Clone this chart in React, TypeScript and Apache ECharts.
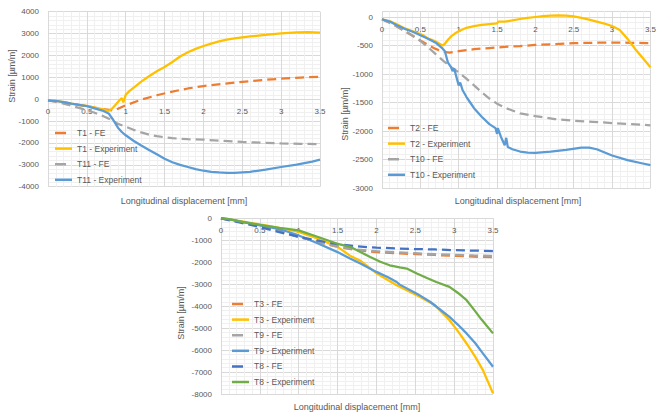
import React, { useEffect, useRef } from "react";
import * as echarts from "echarts";

// ---------- Chart 1 (T1 / T11) ----------
const t1FeX = [0, 0.25, 0.5, 0.7, 0.85, 1.0, 1.2, 1.4, 1.6, 1.8, 2.0, 2.25, 2.5, 2.75, 3.0, 3.25, 3.5];
const t1FeY = [-50, -170, -320, -450, -520, -280, -20, 180, 350, 490, 600, 700, 790, 870, 940, 990, 1030];
const t1ExpX = [0, 0.1, 0.2, 0.3, 0.4, 0.5, 0.6, 0.7, 0.78, 0.82, 0.87, 0.92, 0.95, 0.97, 1.0, 1.05, 1.1, 1.2, 1.3, 1.4, 1.5, 1.6, 1.7, 1.8, 1.9, 2.0, 2.1, 2.2, 2.3, 2.4, 2.5, 2.6, 2.8, 3.0, 3.2, 3.35, 3.5];
const t1ExpY = [-60, -80, -130, -200, -260, -300, -380, -450, -530, -450, -250, -50, 50, -150, 200, 380, 520, 800, 1050, 1280, 1470, 1700, 1950, 2150, 2300, 2430, 2540, 2640, 2720, 2780, 2830, 2870, 2940, 3010, 3060, 3070, 3040];
const t11FeX = [0, 0.2, 0.4, 0.5, 0.6, 0.7, 0.8, 0.9, 1.0, 1.1, 1.2, 1.3, 1.4, 1.5, 1.6, 1.7, 1.8, 2.0, 2.25, 2.5, 2.75, 3.0, 3.25, 3.5];
const t11FeY = [-50, -200, -400, -500, -620, -760, -920, -1130, -1260, -1400, -1520, -1620, -1690, -1740, -1780, -1810, -1830, -1850, -1900, -1950, -1990, -2020, -2040, -2060];
const t11ExpX = [0, 0.1, 0.2, 0.3, 0.4, 0.5, 0.6, 0.7, 0.78, 0.84, 0.9, 0.95, 1.0, 1.1, 1.2, 1.3, 1.4, 1.5, 1.6, 1.7, 1.8, 1.9, 2.0, 2.1, 2.2, 2.3, 2.4, 2.6, 2.8, 3.0, 3.2, 3.4, 3.5];
const t11ExpY = [-60, -80, -130, -200, -260, -320, -420, -520, -650, -950, -1300, -1500, -1650, -1900, -2120, -2320, -2520, -2720, -2880, -3000, -3100, -3200, -3270, -3320, -3350, -3370, -3370, -3320, -3220, -3100, -2990, -2850, -2760];

// ---------- Chart 2 (T2 / T10) ----------
const t2FeX = [0, 0.1, 0.2, 0.3, 0.4, 0.5, 0.6, 0.7, 0.8, 0.88, 1.0, 1.2, 1.4, 1.6, 1.8, 2.0, 2.25, 2.5, 2.75, 3.0, 3.25, 3.5];
const t2FeY = [-40, -100, -170, -250, -330, -410, -490, -560, -610, -625, -600, -565, -545, -525, -510, -490, -475, -460, -452, -450, -452, -460];
const t2ExpX = [0, 0.1, 0.2, 0.3, 0.4, 0.5, 0.55, 0.6, 0.65, 0.7, 0.75, 0.79, 0.82, 0.86, 0.9, 0.95, 1.0, 1.05, 1.1, 1.2, 1.3, 1.4, 1.5, 1.52, 1.6, 1.7, 1.8, 1.9, 2.0, 2.1, 2.2, 2.3, 2.4, 2.5, 2.6, 2.7, 2.8, 2.9, 3.0, 3.1, 3.2, 3.3, 3.4, 3.5];
const t2ExpY = [-40, -70, -130, -200, -250, -300, -330, -380, -400, -430, -470, -500, -470, -400, -340, -290, -250, -220, -190, -160, -140, -125, -110, -80, -80, -60, -35, -15, 0, 15, 25, 30, 25, 10, -15, -45, -80, -115, -160, -230, -380, -560, -720, -880];
const t10FeX = [0, 0.1, 0.2, 0.3, 0.4, 0.5, 0.6, 0.7, 0.8, 0.9, 1.0, 1.1, 1.2, 1.3, 1.4, 1.5, 1.6, 1.7, 1.8, 2.0, 2.25, 2.5, 2.75, 3.0, 3.25, 3.5];
const t10FeY = [-40, -100, -170, -250, -330, -420, -530, -650, -770, -880, -970, -1080, -1200, -1320, -1430, -1520, -1590, -1640, -1690, -1740, -1790, -1820, -1840, -1860, -1880, -1900];
const t10ExpX = [0, 0.1, 0.2, 0.3, 0.4, 0.5, 0.6, 0.7, 0.78, 0.82, 0.86, 0.9, 0.92, 0.94, 0.97, 1.0, 1.02, 1.05, 1.1, 1.15, 1.2, 1.3, 1.4, 1.48, 1.5, 1.51, 1.55, 1.6, 1.62, 1.64, 1.7, 1.8, 1.9, 2.0, 2.2, 2.4, 2.6, 2.7, 2.8, 3.0, 3.2, 3.4, 3.5];
const t10ExpY = [-40, -80, -150, -210, -260, -320, -380, -450, -540, -600, -800, -880, -950, -900, -1050, -1200, -1150, -1280, -1400, -1500, -1600, -1750, -1880, -1950, -2050, -1950, -2100, -2250, -2120, -2280, -2320, -2360, -2380, -2385, -2360, -2330, -2290, -2290, -2320, -2430, -2510, -2570, -2600];

// ---------- Chart 3 (T3 / T9 / T8) ----------
const feX = [0, 0.25, 0.5, 0.75, 1.0, 1.25, 1.5, 1.75, 2.0, 2.25, 2.5, 2.75, 3.0, 3.25, 3.5];
const t3FeY = [0, -150, -330, -580, -850, -1080, -1300, -1450, -1540, -1590, -1630, -1670, -1710, -1745, -1775];
const t9FeY = [0, -150, -330, -580, -850, -1070, -1280, -1420, -1500, -1550, -1590, -1630, -1660, -1690, -1715];
const t8FeY = [0, -200, -400, -630, -840, -1020, -1180, -1280, -1335, -1370, -1400, -1420, -1450, -1470, -1490];
const t3ExpX = [0, 0.1, 0.25, 0.5, 0.75, 1.0, 1.25, 1.5, 1.66, 1.8, 2.0, 2.26, 2.52, 2.75, 2.94, 3.05, 3.16, 3.27, 3.37, 3.5];
const t3ExpY = [0, -40, -130, -280, -430, -620, -930, -1300, -1700, -1950, -2500, -3050, -3500, -3950, -4640, -5150, -5700, -6300, -6910, -7970];
const t9ExpX = [0, 0.1, 0.25, 0.5, 0.72, 0.85, 1.0, 1.25, 1.5, 1.66, 1.8, 2.0, 2.15, 2.26, 2.3, 2.52, 2.69, 2.81, 2.94, 3.05, 3.16, 3.27, 3.37, 3.5];
const t9ExpY = [0, -40, -150, -320, -470, -600, -780, -1150, -1540, -1830, -2070, -2440, -2680, -2900, -3020, -3430, -3800, -4130, -4490, -4850, -5240, -5680, -6150, -6760];
const t8ExpX = [0, 0.1, 0.25, 0.5, 0.75, 1.0, 1.25, 1.49, 1.66, 1.8, 1.92, 2.05, 2.17, 2.3, 2.39, 2.52, 2.65, 2.77, 2.94, 3.05, 3.16, 3.26, 3.35, 3.5];
const t8ExpY = [0, -40, -150, -300, -430, -550, -850, -1150, -1300, -1550, -1760, -1980, -2140, -2230, -2290, -2510, -2720, -2900, -3120, -3400, -3730, -4180, -4600, -5240];

const xTitle = "Longitudinal displacement [mm]";
const yTitle = "Strain [µm/m]";

const ORANGE = "#ED7D31";
const YELLOW = "#FFC000";
const GRAY = "#A5A5A5";
const BLUE = "#5B9BD5";
const DBLUE = "#4472C4";
const GREEN = "#70AD47";
const TEXT = "#595959";
const FONT = "Liberation Sans";

// legend icons: solid bar, and a single dash followed by a gap
const ICON_SOLID = "path://M0,0H20V1H0Z";
const ICON_DASH = "path://M0,0H13V1H0Z M20,0H20V1H20Z";

const zip = (xs: number[], ys: number[]) => xs.map((x, i) => [x, ys[i]]);

function App() {
  const ref = useRef<HTMLDivElement>(null);
  useEffect(() => {
    if (!ref.current) return;
    const chart = echarts.init(ref.current, undefined, { renderer: "svg" });

    const grids = [
      { left: 48, top: 11.7, width: 272, height: 175 },
      { left: 382, top: 11.3, width: 271, height: 176.7 },
      { left: 221, top: 218.3, width: 272, height: 175.7 },
    ];
    const yRanges = [
      { min: -4000, max: 4000, interval: 1000 },
      { min: -3000, max: 100, interval: 500 },
      { min: -8000, max: 0, interval: 1000 },
    ];

    // x axis sits on the y = 0 line: shift it up from the grid bottom
    const xAxes = grids.map((g, i) => ({
      type: "value",
      gridIndex: i,
      position: "bottom",
      offset: -(g.height * (0 - yRanges[i].min)) / (yRanges[i].max - yRanges[i].min),
      min: 0,
      max: 3.5,
      interval: 0.5,
      axisLine: { show: true, onZero: false, lineStyle: { color: "#D9D9D9", width: 1 } },
      axisTick: { show: false },
      axisLabel: { color: TEXT, fontSize: 8, fontFamily: FONT, margin: 8 },
      splitLine: { show: true, lineStyle: { color: "#D9D9D9", width: 1 } },
      minorTick: { show: false, splitNumber: 5 },
      minorSplitLine: { show: true, lineStyle: { color: "#F0F0F0", width: 1 } },
    }));

    const yAxes = yRanges.map((r, i) => ({
      type: "value",
      gridIndex: i,
      min: r.min,
      max: r.max,
      interval: r.interval,
      axisLine: { show: false, onZero: false },
      axisTick: { show: false },
      axisLabel: {
        color: TEXT,
        fontSize: 8,
        fontFamily: FONT,
        margin: 9,
        showMaxLabel: i !== 1,
        formatter: (v: number) => String(v),
      },
      splitLine: { show: true, lineStyle: { color: "#D9D9D9", width: 1 } },
      minorTick: { show: false, splitNumber: 5 },
      minorSplitLine: { show: true, lineStyle: { color: "#F0F0F0", width: 1 } },
    }));

    const mk = (name: string, data: number[][], color: string, dashed: boolean, gi: number) => ({
      name,
      type: "line",
      xAxisIndex: gi,
      yAxisIndex: gi,
      data,
      symbol: "none",
      showSymbol: false,
      smooth: false,
      clip: false,
      lineStyle: { color, width: 2.25, type: dashed ? [9, 5] : "solid" },
      itemStyle: { color },
    });

    const series = [
      mk("T1 - FE", zip(t1FeX, t1FeY), ORANGE, true, 0),
      mk("T1 - Experiment", zip(t1ExpX, t1ExpY), YELLOW, false, 0),
      mk("T11 - FE", zip(t11FeX, t11FeY), GRAY, true, 0),
      mk("T11 - Experiment", zip(t11ExpX, t11ExpY), BLUE, false, 0),
      mk("T2 - FE", zip(t2FeX, t2FeY), ORANGE, true, 1),
      mk("T2 - Experiment", zip(t2ExpX, t2ExpY), YELLOW, false, 1),
      mk("T10 - FE", zip(t10FeX, t10FeY), GRAY, true, 1),
      mk("T10 - Experiment", zip(t10ExpX, t10ExpY), BLUE, false, 1),
      mk("T3 - FE", zip(feX, t3FeY), ORANGE, true, 2),
      mk("T3 - Experiment", zip(t3ExpX, t3ExpY), YELLOW, false, 2),
      mk("T9 - FE", zip(feX, t9FeY), GRAY, true, 2),
      mk("T9 - Experiment", zip(t9ExpX, t9ExpY), BLUE, false, 2),
      mk("T8 - FE", zip(feX, t8FeY), DBLUE, true, 2),
      mk("T8 - Experiment", zip(t8ExpX, t8ExpY), GREEN, false, 2),
    ];

    const item = (name: string) => ({
      name,
      icon: name.endsWith("FE") ? ICON_DASH : ICON_SOLID,
    });

    const legendBase = {
      orient: "vertical",
      padding: 0,
      itemWidth: 17,
      itemHeight: 2.5,
      symbolKeepAspect: false,
      itemGap: 5.6,
      textStyle: { color: TEXT, fontSize: 8.5, fontFamily: FONT, lineHeight: 10 },
      selectedMode: false,
    };
    const legends = [
      { ...legendBase, left: 55, top: 128, data: ["T1 - FE", "T1 - Experiment", "T11 - FE", "T11 - Experiment"].map(item) },
      { ...legendBase, left: 388, top: 123, data: ["T2 - FE", "T2 - Experiment", "T10 - FE", "T10 - Experiment"].map(item) },
      {
        ...legendBase,
        left: 232,
        top: 299,
        data: ["T3 - FE", "T3 - Experiment", "T9 - FE", "T9 - Experiment", "T8 - FE", "T8 - Experiment"].map(item),
      },
    ];

    const txt = (x: number, y: number, text: string, rot: number) => ({
      type: "text",
      x,
      y,
      rotation: rot,
      style: {
        text,
        fill: TEXT,
        fontSize: 9,
        fontFamily: FONT,
        textAlign: "center",
        textVerticalAlign: "middle",
      },
    });

    chart.setOption({
      animation: false,
      backgroundColor: "#FFFFFF",
      grid: grids.map((g) => ({ ...g, containLabel: false })),
      xAxis: xAxes,
      yAxis: yAxes,
      legend: legends,
      series,
      graphic: [
        txt(184, 201, xTitle, 0),
        txt(518, 201, xTitle, 0),
        txt(357, 407, xTitle, 0),
        txt(12, 76, yTitle, Math.PI / 2),
        txt(345, 114, yTitle, Math.PI / 2),
        txt(181, 313, yTitle, Math.PI / 2),
      ],
    });
    return () => chart.dispose();
  }, []);

  return (
    <div
      ref={ref}
      style={{ position: "absolute", left: 0, top: 0, width: 659, height: 416 }}
    />
  );
}

export default App;
